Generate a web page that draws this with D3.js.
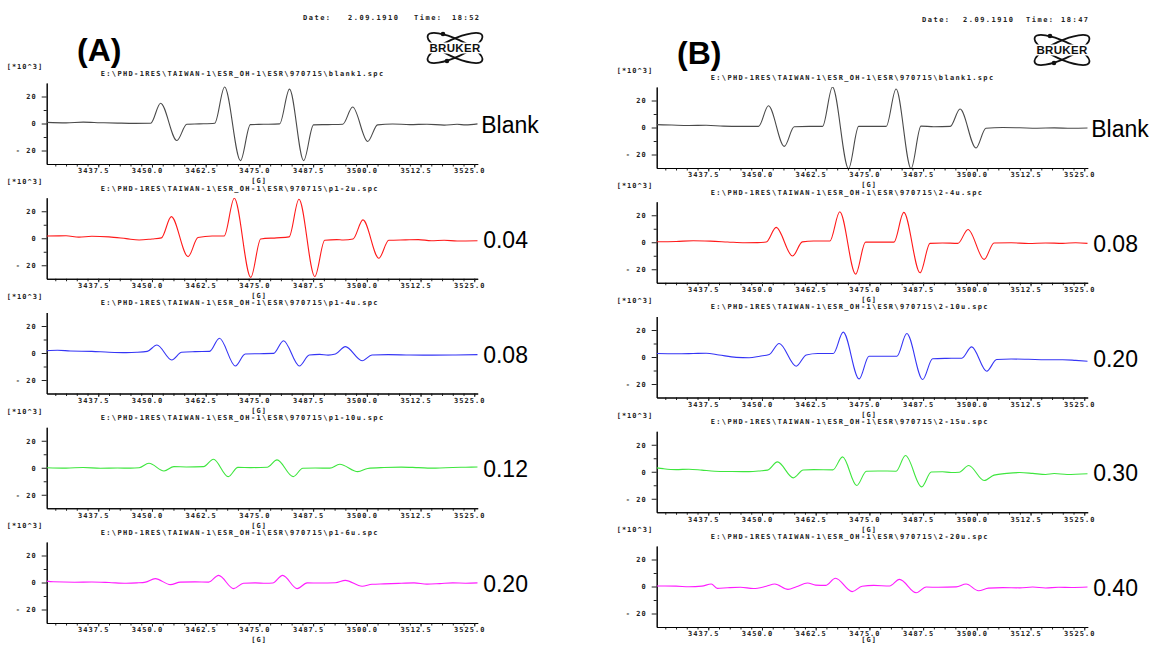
<!DOCTYPE html>
<html><head><meta charset="utf-8">
<script src="https://cdn.jsdelivr.net/npm/d3@7"></script>
<style>body{margin:0;background:#fff;} svg{display:block;}</style>
</head><body>
<svg id="chart" width="1150" height="645"></svg>
<script>
// ---------- data ----------
const fieldDomain = [3425.5, 3525.8];
const xTickValues = [3437.5, 3450, 3462.5, 3475, 3487.5, 3500, 3512.5, 3525];
const xTickLabels = ["3437.5","3450.0","3462.5","3475.0","3487.5","3500.0","3512.5","3525.0"];
const yDomain = [-30, 30];
const yTickValues = [-20, 0, 20];
const yMinorTicks = [-10, 10];

const panelLabelsA = ["Blank","0.04","0.08","0.12","0.20"];
const panelLabelsB = ["Blank","0.08","0.20","0.30","0.40"];
const fileNamesA = ["blank1.spc","p1-2u.spc","p1-4u.spc","p1-10u.spc","p1-6u.spc"];
const fileNamesB = ["blank1.spc","2-4u.spc","2-10u.spc","2-15u.spc","2-20u.spc"];
const filePrefix = "E:\\PHD-1RES\\TAIWAN-1\\ESR_OH-1\\ESR\\970715\\";
const dateA = ["Date:", "2.09.1910", "Time:", "18:52"];
const dateB = ["Date:", "2.09.1910", "Time:", "18:47"];
const seriesColors = ["#4a4a4a","#ff1a1a","#3535f5","#3ee63e","#ff1cff"];

// spectra: [field (G), intensity (*10^3)]
const specA_blank = [[3425.5,0.8],[3430,0.5],[3434,1.0],[3438,0.6],[3442,0.3],[3446,0.1],[3449.7,0.2],[3452.0,15.0],[3455.8,-12.6],[3458.1,-0.6],[3461,-0.3],[3464.6,0.2],[3466.9,27.0],[3470.6,-27.5],[3472.9,-0.8],[3476,-0.6],[3479.7,-0.3],[3482.0,25.5],[3485.3,-27.5],[3487.6,-1.0],[3491,-0.8],[3494.4,-0.5],[3496.7,12.2],[3500.2,-13.3],[3502.5,-1.0],[3506,-0.4],[3510,-0.8],[3514,-0.5],[3518,-1.2],[3521,-0.6],[3523,-1.0],[3525.8,-0.3]];
const specA_004 = [[3425.5,1.7],[3430,1.8],[3433,0.8],[3436,1.5],[3440,1.0],[3444,-0.3],[3447,-1.3],[3450,-0.5],[3452.2,0.3],[3454.5,16.0],[3458.4,-13.6],[3460.7,0.5],[3464,1.7],[3466.8,1.7],[3469.15,29.6],[3473.0,-29.0],[3475.3,-0.5],[3479,0.3],[3481.9,1.0],[3484.2,28.9],[3487.9,-28.4],[3490.2,-1.5],[3493,-1.0],[3494.5,-1.3],[3496.8,-0.5],[3499.1,13.6],[3502.8,-14.8],[3505.1,-1.5],[3509,-1.2],[3512,-1.0],[3515,-1.8],[3518,-1.5],[3521,-2.0],[3525.8,-1.8]];
const specA_008 = [[3425.5,1.7],[3428,2.0],[3431,1.5],[3436,1.2],[3440,0.6],[3444,0.3],[3446.5,0.5],[3448.9,1.2],[3451.15,5.9],[3454.6,-5.2],[3456.9,0.5],[3460,1.0],[3463.4,1.2],[3465.7,10.9],[3469.4,-9.6],[3471.7,-0.7],[3475,-0.5],[3478.3,-0.3],[3480.6,9.1],[3484.3,-9.6],[3486.6,-1.5],[3489,-1.0],[3491,-1.6],[3492.7,-0.8],[3495.0,4.7],[3498.9,-5.7],[3501.2,-1.5],[3505,-1.2],[3510,-1.5],[3515,-1.6],[3520,-1.5],[3525.8,-1.2]];
const specA_012 = [[3425.5,0.0],[3430,-0.3],[3434,0.2],[3438,-0.4],[3442,-0.2],[3445,-0.3],[3447.0,0.0],[3449.3,3.3],[3452.8,-2.4],[3455.1,0.8],[3458,0.6],[3462,0.8],[3464.3,6.3],[3467.75,-6.6],[3470.0,0.3],[3473,0.1],[3476.8,0.4],[3479.1,5.8],[3482.85,-6.6],[3485.1,-0.4],[3488,-0.2],[3491.4,-0.3],[3493.7,2.6],[3497.9,-2.9],[3500.2,-0.5],[3504,0.2],[3508,0.5],[3512,0.1],[3516,-0.3],[3520,0.2],[3523,0.4],[3525.8,0.6]];
const specA_020 = [[3425.5,1.0],[3427,0.5],[3432,0.2],[3436,0.4],[3440,0.0],[3444,-0.6],[3446.5,-0.3],[3448.5,0.3],[3450.75,2.9],[3454.3,-1.6],[3456.6,0.3],[3460,0.5],[3463.2,0.3],[3465.5,5.3],[3469.0,-4.5],[3471.3,-0.5],[3474,-0.3],[3476.5,-0.6],[3478.1,-0.4],[3480.4,5.3],[3483.8,-4.5],[3486.1,-0.3],[3489,-0.4],[3492.7,-0.2],[3495.0,1.6],[3498.9,-2.8],[3501.2,-1.3],[3504,-1.0],[3508,-0.6],[3511,-0.3],[3514,-1.2],[3517,-0.8],[3520,-0.3],[3523,-0.5],[3525.8,-0.3]];

const specB_blank = [[3425.5,2.1],[3429,1.8],[3433,1.5],[3437,1.7],[3441,1.0],[3445,0.8],[3449.2,0.8],[3451.5,16.1],[3455.2,-14.0],[3457.5,0.5],[3461,0.8],[3464.1,0.8],[3466.4,30.0],[3470.15,-30.5],[3472.5,0.8],[3476,0.8],[3478.9,0.8],[3481.2,28.5],[3484.7,-30.5],[3487.0,1.0],[3490,0.6],[3493.8,0.8],[3496.1,13.7],[3499.8,-15.2],[3502.1,-0.5],[3506,0.0],[3510,-0.2],[3514,-0.5],[3518,-0.3],[3522,-0.6],[3525.8,-0.4]];
const specB_008 = [[3425.5,0.4],[3430,0.6],[3434,1.1],[3438,0.8],[3442,0.2],[3446,-0.4],[3449,-0.3],[3451.0,0.2],[3453.3,11.0],[3457.1,-10.2],[3459.4,0.3],[3462,0.9],[3465.8,0.9],[3468.1,22.6],[3471.8,-23.6],[3474.1,0.1],[3477,0.1],[3480.7,0.1],[3483.0,22.1],[3486.8,-22.6],[3489.1,-0.8],[3492,-0.5],[3495.6,-0.8],[3497.95,9.5],[3501.7,-12.7],[3504.0,-0.5],[3508,-0.4],[3512,-0.9],[3516,-0.5],[3520,-0.8],[3523,-0.4],[3525.8,-0.8]];
const specB_020 = [[3425.5,2.6],[3430,2.4],[3434,2.6],[3437,2.8],[3440,1.5],[3444,-0.3],[3447,-0.6],[3449.5,0.6],[3451.7,1.9],[3454.0,10.0],[3457.95,-6.8],[3460.3,1.5],[3463,2.6],[3466.6,2.6],[3468.9,18.4],[3472.6,-16.2],[3474.9,0.6],[3478,0.6],[3481.4,0.6],[3483.7,17.4],[3487.4,-16.7],[3489.7,-1.3],[3493,-1.0],[3496.5,-0.9],[3498.8,7.5],[3502.3,-10.5],[3504.6,-1.9],[3508,-1.5],[3512,-1.7],[3516,-2.0],[3520,-2.0],[3523,-2.5],[3525.8,-3.1]];
const specB_030 = [[3425.5,2.9],[3427,2.3],[3430,1.6],[3433,1.9],[3436,1.2],[3439,0.4],[3443,0.2],[3447,0.1],[3449.5,0.6],[3451.3,1.2],[3453.6,7.3],[3457.3,-4.5],[3459.6,1.3],[3462,1.6],[3466.5,1.4],[3468.75,11.0],[3472.05,-10.2],[3474.3,0.4],[3477,0.6],[3481.2,0.4],[3483.4,12.0],[3487.15,-11.2],[3489.4,-0.2],[3492,0.0],[3494,-0.6],[3495.9,-0.4],[3498.1,4.6],[3501.7,-6.5],[3504,-2.5],[3507,-1.2],[3510,-0.6],[3513,-1.2],[3516,-2.0],[3518,-1.3],[3521,-2.0],[3525.8,-1.5]];
const specB_040 = [[3425.5,0.4],[3430,0.3],[3433,-0.2],[3436,0.3],[3438.2,1.8],[3439.6,-1.4],[3442,-0.9],[3445,-0.5],[3448,-1.5],[3451,0.2],[3453.0,1.8],[3456.05,-2.1],[3458,-0.2],[3460.6,2.6],[3462.5,1.0],[3464.8,0.8],[3467.1,6.1],[3471.0,-3.8],[3473.3,0.2],[3476,0.8],[3479.7,0.4],[3482.0,5.3],[3485.9,-4.6],[3488.2,-0.4],[3491,-0.6],[3495.2,-0.3],[3497.5,1.8],[3500.4,-3.1],[3502.7,-1.2],[3506,-0.8],[3510,-1.0],[3513,-0.4],[3516,-1.1],[3519,-0.6],[3522,-0.7],[3525.8,-0.4]];

const spectraA = [specA_blank, specA_004, specA_008, specA_012, specA_020];
const spectraB = [specB_blank, specB_008, specB_020, specB_030, specB_040];

// ---------- layout ----------
const svg = d3.select("#chart");
const PW = 431, PH = 81, STEP = 114.75;
const smallFont = "'DejaVu Sans Mono', monospace";
const columns = [
  {x0: 46.7, bottom0: 164, spectra: spectraA, labels: panelLabelsA, files: fileNamesA,
   tag: "(A)", tagX: 77, tagY: 61, date: dateA, dateX: [303, 348, 414, 452], dateY: 18, logo: [455, 48]},
  {x0: 656.7, bottom0: 168, spectra: spectraB, labels: panelLabelsB, files: fileNamesB,
   tag: "(B)", tagX: 677, tagY: 64, date: dateB, dateX: [922, 963, 1026, 1061], dateY: 20, logo: [1062, 50]}
];
const minorX = d3.range(3427.5, 3525.1, 2.5);
const line = d3.line().curve(d3.curveMonotoneX);

function smallText(g, x, y, txt, anchor, ls) {
  return g.append("text").attr("x", x).attr("y", y).attr("dy", "0.35em")
    .attr("text-anchor", anchor || "start")
    .style("font-family", smallFont).style("font-size", "7px").style("font-weight", "bold")
    .style("letter-spacing", (ls == null ? 1 : ls) + "px").attr("fill", "#222").text(txt);
}

function drawLogo(cx, cy) {
  const lg = svg.append("g").attr("transform", `translate(${cx},${cy})`);
  [25, -25].forEach(a => lg.append("ellipse").attr("rx", 30).attr("ry", 9)
    .attr("transform", `rotate(${a})`).attr("fill", "none").attr("stroke", "#111").attr("stroke-width", 1.8));
  lg.append("rect").attr("x", -31).attr("y", -5.5).attr("width", 62).attr("height", 11).attr("fill", "#fff");
  lg.append("text").attr("x", 0).attr("y", 0).attr("dy", "0.36em").attr("text-anchor", "middle")
    .style("font-family", "'Liberation Sans', Arial, sans-serif").style("font-weight", "900")
    .style("font-size", "11.5px").style("letter-spacing", "0.3px").attr("fill", "#111").text("BRUKER");
  lg.append("circle").attr("cx", -12).attr("cy", -14).attr("r", 2.3).attr("fill", "#111");
  lg.append("circle").attr("cx", -8).attr("cy", 13).attr("r", 2.3).attr("fill", "#111");
}

columns.forEach((col, ci) => {
  // header
  svg.append("text").attr("x", col.tagX).attr("y", col.tagY)
    .style("font-family", "'Liberation Sans', Arial, sans-serif").style("font-weight", "bold")
    .style("font-size", "32px").attr("fill", "#000").text(col.tag);
  col.date.forEach((t, i) => smallText(svg, col.dateX[i], col.dateY, t, "start", 1.5));
  drawLogo(col.logo[0], col.logo[1]);

  col.spectra.forEach((data, i) => {
    const bottom = col.bottom0 + i * STEP, top = bottom - PH;
    const x = d3.scaleLinear().domain(fieldDomain).range([col.x0, col.x0 + PW]);
    const y = d3.scaleLinear().domain(yDomain).range([bottom, top]);
    const g = svg.append("g");

    // minor x ticks
    g.append("g").attr("transform", `translate(0,${bottom})`)
      .call(d3.axisBottom(x).tickValues(minorX).tickSize(2.5).tickSizeOuter(0).tickFormat(""))
      .call(a => a.selectAll("line").attr("stroke", "#222"));
    // major x ticks + labels
    g.append("g").attr("transform", `translate(0,${bottom})`)
      .call(d3.axisBottom(x).tickValues(xTickValues).tickSize(3.5).tickSizeOuter(0).tickPadding(1)
        .tickFormat((d, k) => xTickLabels[k]))
      .call(a => {
        a.select(".domain").attr("stroke", "#000");
        a.selectAll("line").attr("stroke", "#222");
        a.selectAll("text").attr("dx", -5).style("font-family", smallFont)
          .style("font-size", "7px").style("font-weight", "bold")
          .style("letter-spacing", "1px").attr("fill", "#222");
      });
    // y axis
    g.append("g").attr("transform", `translate(${col.x0},0)`)
      .call(d3.axisLeft(y).tickValues(yMinorTicks).tickSize(3).tickSizeOuter(0).tickFormat(""))
      .call(a => a.selectAll("line").attr("stroke", "#222"));
    g.append("g").attr("transform", `translate(${col.x0},0)`)
      .call(d3.axisLeft(y).tickValues(yTickValues).tickSize(5).tickSizeOuter(0).tickPadding(5)
        .tickFormat(d => d < 0 ? "- " + (-d) : String(d)))
      .call(a => {
        a.select(".domain").attr("stroke", "#000");
        a.selectAll("line").attr("stroke", "#222");
        a.selectAll("text").style("font-family", smallFont).style("font-size", "7px")
          .style("font-weight", "bold").style("letter-spacing", "1px").attr("fill", "#222");
      });

    // texts
    smallText(g, col.x0 - 40, top - 16, "[*10^3]", "start", 1);
    smallText(g, col.x0 + 54, top - 9.5, filePrefix + col.files[i], "start", 1.35);
    smallText(g, col.x0 + PW / 2 - 3, Math.min(bottom + 17, 640), "[G]", "middle", 1);

    // spectrum
    const clipId = `clip${ci}_${i}`;
    g.append("clipPath").attr("id", clipId).append("rect")
      .attr("x", col.x0).attr("y", top).attr("width", PW).attr("height", PH);
    g.append("path").datum(data)
      .attr("clip-path", `url(#${clipId})`)
      .attr("d", line.x(d => x(d[0])).y(d => y(d[1])))
      .attr("fill", "none").attr("stroke", seriesColors[i]).attr("stroke-width", 1.1);

    // concentration label
    svg.append("text").attr("x", col.x0 + PW + (i === 0 ? 3.5 : 5.5)).attr("y", bottom - 39).attr("dy", "0.35em")
      .style("font-family", "'Liberation Sans', Arial, sans-serif").style("font-size", "23px")
      .attr("fill", "#000").text(col.labels[i]);
  });
});
</script>
</body></html>
